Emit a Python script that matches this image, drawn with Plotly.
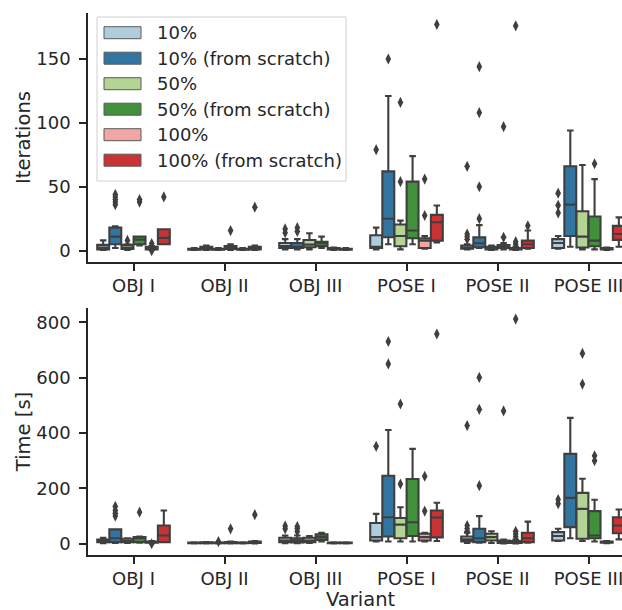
import plotly.graph_objects as go

categories = ["OBJ I", "OBJ II", "OBJ III", "POSE I", "POSE II", "POSE III"]
hues = ["10%", "10% (from scratch)", "50%", "50% (from scratch)", "100%", "100% (from scratch)"]
colors = ["#aeccdc", "#3275a1", "#b3d495", "#40913a", "#efa6a5", "#ca3335"]

# ---------------- Iterations (hue x category) ----------------
it_lo = [
    [0.5, 0.5, 1, 1, 1, 1.5],
    [2, 0.5, 1, 5, 2, 3],
    [0.5, 0.5, 1, 1, 0.5, 1],
    [4, 0.5, 2, 5, 1, 1],
    [0.5, 0.5, 0.5, 1.5, 0.5, 0.5],
    [5, 0.5, 0.5, 6.5, 1.5, 3],
]
it_q1 = [
    [1, 0.8, 2, 2, 1.5, 2],
    [5, 1, 2, 10.5, 2.6, 11.5],
    [1.3, 0.8, 2.6, 3.4, 1, 2.4],
    [5, 1.3, 3.5, 9.7, 2.1, 3.4],
    [1, 0.8, 1, 2.1, 1, 1],
    [5, 1, 0.8, 7.8, 2.1, 8.4],
]
it_med = [
    [2.5, 1, 3.5, 3, 2, 6],
    [11, 2, 3, 25, 5.8, 36],
    [2.5, 1, 4.7, 11.5, 2, 11],
    [8.6, 2, 5.8, 15.7, 2.6, 7.8],
    [2, 1, 1.5, 7.8, 1.5, 1.5],
    [10, 2, 1, 22.2, 5, 13],
]
it_q3 = [
    [4.5, 1.5, 6, 12, 4, 9],
    [18, 3, 6, 62, 10.4, 66],
    [4.5, 1.5, 8.3, 20.4, 3, 30.8],
    [11, 3.5, 7, 54, 4.4, 26.7],
    [3, 1.5, 2, 9.7, 2, 2],
    [16.7, 3, 1.5, 28, 7.8, 19.4],
]
it_hi = [
    [8, 2, 9, 18, 5, 11.5],
    [19, 4, 9, 121, 20, 94],
    [5, 2, 13.6, 23.5, 4, 67],
    [11, 5, 11, 74, 6, 56],
    [3.5, 2, 2.5, 11.5, 3, 2.5],
    [16.7, 4, 2, 35.3, 15.7, 26],
]
it_out = [
    [[], [], [14, 17], [79], [9, 11, 13, 66], [29.5, 35.5, 45]],
    [[36, 38, 40, 42, 44], [], [15, 18], [150], [25, 50, 108, 144], []],
    [[8], [], [], [54, 116], [], []],
    [[38, 40], [15.7], [], [], [10.4, 97], [68]],
    [[0, 5.5], [], [], [27.5, 56], [5, 7, 176], []],
    [[42], [34], [], [177], [19.4], []],
]

# ---------------- Time [s] (hue x category) ----------------
tm_lo = [
    [2, 1, 2, 8, 3, 10],
    [3, 1, 2, 8, 4, 20],
    [3, 1, 3, 8, 3, 10],
    [4, 1, 8, 8, 1, 8],
    [2, 1, 1, 8, 1, 2],
    [6, 1, 1, 10, 4, 16],
]
tm_q1 = [
    [6, 2, 6, 12, 8, 12],
    [6, 2, 5, 26, 6, 60],
    [6, 2, 6, 20, 12, 18],
    [6, 2, 14, 28, 3, 20],
    [4, 2, 2, 12, 3, 4],
    [6, 3, 2, 23, 6, 38],
]
tm_med = [
    [10, 3, 12, 24, 16, 28],
    [20, 3, 12, 96, 20, 166],
    [10, 3, 12, 69, 24, 126],
    [20, 4, 24, 78, 6, 30],
    [6, 3, 3, 24, 6, 6],
    [30, 5, 3, 95, 20, 66],
]
tm_q3 = [
    [15, 4, 22, 75, 26, 42],
    [52, 5, 20, 246, 54, 325],
    [18, 4, 22, 93, 36, 184],
    [24, 6, 34, 234, 12, 118],
    [8, 4, 4, 36, 10, 8],
    [66, 8, 4, 120, 40, 96],
]
tm_hi = [
    [22, 5, 30, 108, 40, 54],
    [52, 6, 30, 411, 100, 455],
    [20, 5, 28, 132, 45, 235],
    [26, 8, 40, 343, 15, 159],
    [10, 5, 5, 40, 15, 10],
    [120, 10, 5, 148, 80, 124],
]
tm_out = [
    [[], [], [54, 64], [352], [45, 55, 66, 427], [145, 160]],
    [[100, 110, 120, 135], [], [44, 55, 62], [650, 731], [210, 486, 601], []],
    [[], [8], [], [216, 505], [], [577, 688]],
    [[114], [54], [], [], [480], [300, 318]],
    [[0], [], [], [118, 244], [25, 35, 45, 812], []],
    [[], [105], [], [758], [], []],
]

GRAY = "#3f3f3f"
DARK = "#262626"
FONT = "DejaVu Sans"

n_h = len(hues)
step = 0.8 / n_h
box_w = step * 0.98

fig = go.Figure()


def add_panel(lo, q1, med, q3, hi, out, xa, ya):
    for j in range(n_h):
        xs = [i + (j - (n_h - 1) / 2) * step for i in range(len(categories))]
        fig.add_trace(go.Box(
            x=xs, q1=q1[j], median=med[j], q3=q3[j],
            lowerfence=lo[j], upperfence=hi[j],
            width=box_w, whiskerwidth=0.55,
            fillcolor=colors[j], line=dict(color=GRAY, width=2.1),
            boxpoints=False, xaxis=xa, yaxis=ya, showlegend=False,
            hoverinfo="skip",
        ))
        ox, oy = [], []
        for i, pts in enumerate(out[j]):
            ox += [xs[i]] * len(pts)
            oy += pts
        fig.add_trace(go.Scatter(
            x=ox, y=oy, mode="markers",
            marker=dict(symbol="diamond-tall", size=8, color=GRAY),
            xaxis=xa, yaxis=ya, showlegend=False, hoverinfo="skip",
        ))


add_panel(it_lo, it_q1, it_med, it_q3, it_hi, it_out, "x", "y")
add_panel(tm_lo, tm_q1, tm_med, tm_q3, tm_hi, tm_out, "x2", "y2")

W, H = 622, 610
ML, MR, MT, MB = 88, 0, 13, 55
PW, PH = W - ML - MR, H - MT - MB


def pxx(px):
    return (px - ML) / PW


def pxy(py):
    return (H - MB - py) / PH


axis_common = dict(
    showline=True, linecolor=DARK, linewidth=1.6,
    ticks="outside", ticklen=7, tickwidth=1.5, tickcolor=DARK,
    showgrid=False, zeroline=False, automargin=False,
    ticklabeloverflow="allow",
    tickfont=dict(family=FONT, size=18, color=DARK),
)
xrange = [-0.5, -0.5 + PW / 91.0]

fig.update_layout(
    width=W, height=H,
    margin=dict(l=ML, r=MR, t=MT, b=MB, pad=0, autoexpand=False),
    plot_bgcolor="white", paper_bgcolor="white",
    font=dict(family=FONT, color=DARK),
    boxmode="overlay",
    xaxis=dict(domain=[0, 1], anchor="y", range=xrange,
               tickvals=list(range(len(categories))), ticktext=categories,
               ticklabelstandoff=0, **axis_common),
    yaxis=dict(domain=[pxy(262), 1], anchor="x", range=[-8.9, 186],
               tickvals=[0, 50, 100, 150], ticklabelstandoff=5,
               title=dict(text="Iterations", font=dict(family=FONT, size=19.5, color=DARK), standoff=0),
               **axis_common),
    xaxis2=dict(domain=[0, 1], anchor="y2", range=xrange,
                tickvals=list(range(len(categories))), ticktext=categories,
                ticklabelstandoff=0, **axis_common),
    yaxis2=dict(domain=[0, pxy(308)], anchor="x2", range=[-40.6, 852],
                tickvals=[0, 200, 400, 600, 800], ticklabelstandoff=5,
                title=dict(text="Time [s]", font=dict(family=FONT, size=19.5, color=DARK), standoff=0),
                **axis_common),
)

# x-axis title (matplotlib centres it on the full axis width)
annotations = [dict(
    text="Variant", x=pxx(361), y=pxy(599), xref="paper", yref="paper",
    xanchor="center", yanchor="middle", showarrow=False, borderpad=0,
    font=dict(family=FONT, size=19.5, color=DARK),
)]

# legend drawn as patches + text
shapes = [dict(
    type="rect", xref="paper", yref="paper",
    x0=pxx(97), x1=pxx(346), y0=pxy(181), y1=pxy(17),
    line=dict(color="#d0d0d0", width=1), fillcolor="rgba(255,255,255,0.85)",
    layer="above",
)]
row0, row_h = 32.7, 25.5
for j, name in enumerate(hues):
    cy = row0 + j * row_h
    shapes.append(dict(
        type="rect", xref="paper", yref="paper",
        x0=pxx(104), x1=pxx(141), y0=pxy(cy + 6), y1=pxy(cy - 6),
        line=dict(color="#5a5a5a", width=1), fillcolor=colors[j], layer="above",
    ))
    annotations.append(dict(
        text=name, x=pxx(155), y=pxy(cy), xref="paper", yref="paper",
        xanchor="left", yanchor="middle", showarrow=False,
        font=dict(family=FONT, size=18, color=DARK),
    ))

fig.update_layout(shapes=shapes, annotations=annotations)

# place the figure flush with the page corner (no default body margin)
fig.write_html(
    "out.html",
    config={"displayModeBar": False},
    post_script="document.body.style.margin='0px';document.body.style.overflow='hidden';",
)
